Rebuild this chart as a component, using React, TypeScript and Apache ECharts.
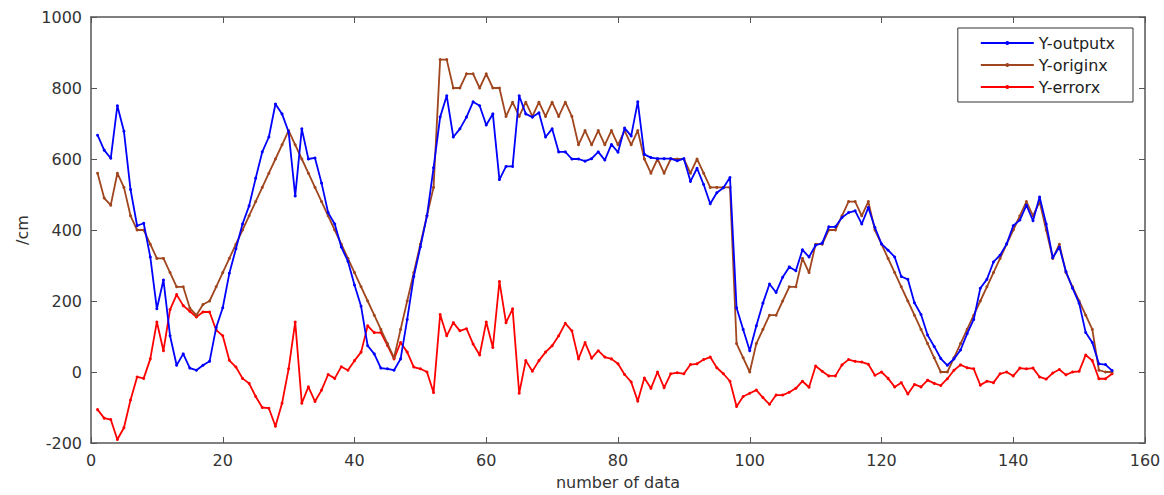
import React, { useEffect, useRef } from "react";
import * as echarts from "echarts";

const seriesNames = ["Y-outputx", "Y-originx", "Y-errorx"];
const xTicks = [0, 20, 40, 60, 80, 100, 120, 140, 160];
const yTicks = [-200, 0, 200, 400, 600, 800, 1000];

// Y-outputx (blue)
const outputValues = [
  667, 625, 602, 750, 678, 514, 412, 419, 324, 178,
  259, 102, 19, 51, 11, 5, 19, 30, 125, 181,
  278, 347, 417, 468, 546, 620, 662, 755, 727, 676,
  496, 685, 600, 603, 532, 449, 417, 352, 312, 245,
  185, 74, 51, 11, 9, 5, 37, 148, 269, 352,
  440, 575, 718, 778, 662, 685, 718, 761, 750, 696,
  727, 542, 579, 579, 778, 727, 718, 730, 662, 685,
  620, 620, 600, 600, 594, 601, 620, 597, 641, 619,
  687, 665, 761, 613, 604, 601, 601, 601, 595, 601,
  537, 574, 528, 474, 505, 519, 548, 181, 120, 60,
  130, 194, 248, 224, 267, 296, 285, 344, 324, 357,
  363, 409, 409, 435, 449, 454, 417, 463, 407, 361,
  343, 324, 269, 261, 195, 162, 104, 72, 38, 19,
  37, 62, 108, 148, 236, 261, 310, 329, 361, 412,
  428, 470, 426, 493, 417, 322, 352, 283, 236, 194,
  111, 83, 23, 21, 4,
];

// Y-originx (brown)
const originValues = [
  560, 490, 470, 560, 520, 440, 400, 400, 360, 320,
  320, 280, 240, 240, 180, 160, 190, 200, 240, 280,
  320, 360, 400, 440, 480, 520, 560, 600, 640, 680,
  640, 600, 560, 520, 480, 440, 400, 360, 320, 280,
  240, 200, 160, 120, 80, 40, 120, 200, 280, 360,
  440, 520, 880, 880, 800, 800, 840, 840, 800, 840,
  800, 800, 720, 760, 720, 760, 720, 760, 720, 760,
  720, 760, 720, 640, 680, 640, 680, 640, 680, 640,
  680, 640, 680, 600, 560, 600, 560, 600, 600, 600,
  560, 600, 560, 520, 520, 520, 520, 80, 40, 0,
  80, 120, 160, 160, 200, 240, 240, 320, 280, 360,
  360, 400, 400, 440, 480, 480, 440, 480, 400, 360,
  320, 280, 240, 200, 160, 120, 80, 40, 0, 0,
  40, 80, 120, 160, 200, 240, 280, 320, 360, 400,
  440, 480, 440, 480, 400, 320, 360, 280, 240, 200,
  160, 120, 5, 0, 0,
];

// Y-errorx (red)
const errorValues = [
  -106, -130, -134, -190, -157, -79, -14, -18, 37, 141,
  60, 176, 218, 187, 171, 155, 169, 169, 118, 102,
  33, 14, -18, -32, -69, -100, -102, -153, -88, 9,
  141, -88, -42, -83, -51, -7, -18, 15, 5, 32,
  56, 130, 111, 111, 75, 37, 83, 56, 14, 9,
  0, -58, 162, 102, 139, 116, 122, 79, 48, 141,
  69, 255, 139, 178, -60, 32, 2, 32, 56, 74,
  102, 137, 116, 37, 83, 39, 60, 42, 37, 23,
  -7, -28, -82, -17, -46, 0, -44, -5, -2, -5,
  21, 23, 35, 42, 12, -5, -26, -97, -69, -60,
  -51, -72, -91, -65, -65, -57, -46, -26, -43, 17,
  2, -11, -11, 20, 35, 30, 28, 22, -9, 0,
  -18, -42, -30, -62, -35, -42, -23, -32, -38, -19,
  5, 20, 12, 9, -37, -26, -30, -5, 0, -11,
  11, 9, 11, -14, -20, -3, 7, -8, 0, 2,
  48, 32, -19, -19, -5,
];

const colors = ["#0000ff", "#a0461e", "#ff0000"];

const toPairs = (arr: number[]) => arr.map((v, i) => [i + 1, v]);

export default function App() {
  const ref = useRef<HTMLDivElement>(null);
  useEffect(() => {
    if (!ref.current) return;
    const chart = echarts.init(ref.current, null, { renderer: "svg" });
    const font = "DejaVu Sans";
    const axisColor = "#555555";
    const labelColor = "#333333";
    const xBase = {
      type: "value" as const,
      min: xTicks[0],
      max: xTicks[xTicks.length - 1],
      interval: 20,
      splitLine: { show: false },
      axisLine: { show: true, onZero: false, lineStyle: { color: axisColor, width: 1.5 } },
      axisTick: { show: true, inside: true, length: 6, lineStyle: { color: axisColor } },
    };
    const yBase = {
      type: "value" as const,
      min: yTicks[0],
      max: yTicks[yTicks.length - 1],
      interval: 200,
      splitLine: { show: false },
      axisLine: { show: true, onZero: false, lineStyle: { color: axisColor, width: 1.5 } },
      axisTick: { show: true, inside: true, length: 6, lineStyle: { color: axisColor } },
    };
    const allData = [outputValues, originValues, errorValues];
    chart.setOption({
      animation: false,
      backgroundColor: "#ffffff",
      grid: { left: 91, right: 19, top: 17, bottom: 46, containLabel: false },
      legend: {
        orient: "vertical",
        right: 31,
        top: 28,
        data: seriesNames,
        backgroundColor: "#ffffff",
        borderColor: "#333333",
        borderWidth: 1,
        padding: [7, 18, 7, 22],
        itemWidth: 53,
        itemHeight: 5,
        itemGap: 6,
        textStyle: { fontFamily: font, fontSize: 16, color: "#222222" },
      },
      xAxis: [
        {
          ...xBase,
          position: "bottom",
          name: "number of data",
          nameLocation: "middle",
          nameGap: 31,
          nameTextStyle: { fontFamily: font, fontSize: 16, color: labelColor },
          axisLabel: { fontFamily: font, fontSize: 16, color: labelColor, margin: 9 },
        },
        { ...xBase, position: "top", axisLabel: { show: false } },
      ],
      yAxis: [
        {
          ...yBase,
          position: "left",
          name: "/cm",
          nameLocation: "middle",
          nameGap: 57,
          nameTextStyle: { fontFamily: font, fontSize: 16, color: labelColor },
          axisLabel: {
            fontFamily: font,
            fontSize: 16,
            color: labelColor,
            margin: 9,
            formatter: (v: number) => String(v),
          },
        },
        { ...yBase, position: "right", axisLabel: { show: false } },
      ],
      series: seriesNames.map((name, k) => ({
        name,
        type: "line",
        data: toPairs(allData[k]),
        symbol: "circle",
        symbolSize: 3,
        showSymbol: true,
        lineStyle: { color: colors[k], width: 1.8 },
        itemStyle: { color: colors[k] },
        z: 3 - k,
      })),
    });
    return () => chart.dispose();
  }, []);
  return (
    <div
      ref={ref}
      style={{ position: "absolute", left: 0, top: 0, width: 1164, height: 495 }}
    />
  );
}
